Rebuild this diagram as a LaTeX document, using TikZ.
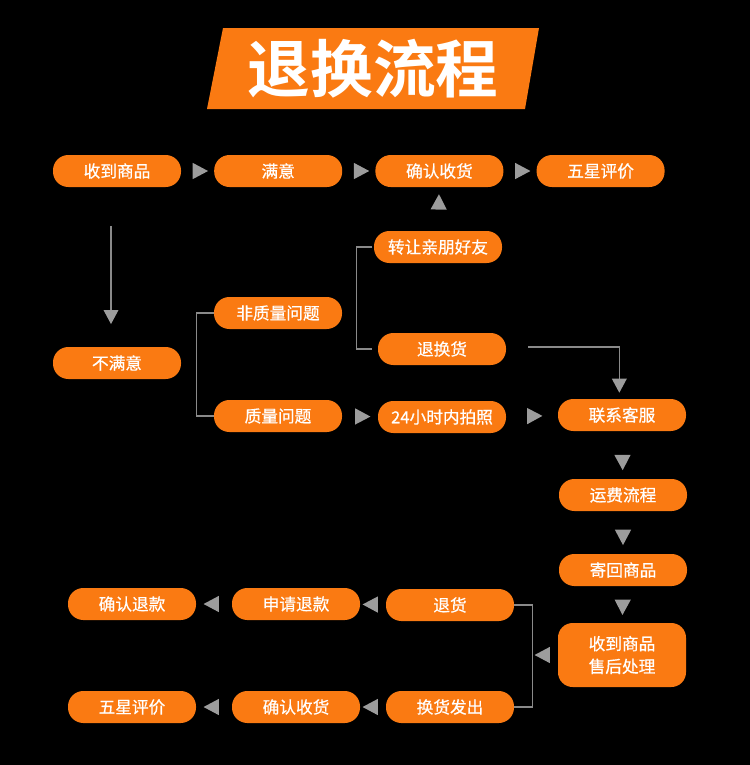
\documentclass[tikz,border=0pt]{standalone}
\usepackage{fontspec}
\newfontfamily\cjk{Noto Sans CJK SC}[BoldFont={Noto Sans CJK SC Bold}]
\newfontfamily\cjkmed{Noto Sans CJK SC}[FakeBold=0.6]
\definecolor{MyO}{HTML}{FA7A12}
\definecolor{MyT}{HTML}{9C9C9C}
\definecolor{MyL}{HTML}{8A8A8A}
\usetikzlibrary{arrows.meta,positioning,shapes.geometric,calc}
\tikzset{%
  stage/.style={rectangle, rounded corners=11.5pt, fill=MyO, text=white, minimum width=96pt, minimum height=24pt, inner sep=0pt, align=center, font=\cjkmed\fontsize{12.5}{17}\selectfont},
  stage big/.style={stage, rounded corners=11pt, minimum height=48pt},
  tip/.style={isosceles triangle, isosceles triangle apex angle=56, fill=MyT, inner sep=0pt, minimum size=11.5pt, sloped, allow upside down},
  link/.style={draw=MyL, line width=0.9pt, -{Triangle[length=10.5pt,width=11pt,color=MyT]}},
  bracket/.style={draw=MyL, line width=0.9pt}
}
\begin{document}
\begin{tikzpicture}[x=0.75pt, y=-0.75pt]

 \path[fill=black, use as bounding box] (0,0) rectangle (750,765);

 % title banner
 \fill[MyO] (223,28) -- (539,28) -- (525,109) -- (207,109) -- cycle;
 \node[text=white, font=\cjk\bfseries\fontsize{47}{52}\selectfont] (title) at (373,69) {退换流程};

 % first row
 \node[stage] (recv) at (117,171) {收到商品};
 \node[stage, right=24.5pt of recv] (satis) {满意};
 \node[stage, right=24.5pt of satis] (confirm) {确认收货};
 \node[stage, right=24.5pt of confirm] (five) {五星评价};

 \node[stage] (unsat) at (117,363) {不满意};
 \node[stage] (nonq) at (278,313) {非质量问题};
 \node[stage] (qual) at (278,416) {质量问题};
 \node[stage] (transfer) at (438,247) {转让亲朋好友};
 \node[stage] (swap) at (442,349) {退换货};
 \node[stage] (photo) at (442,417) {24小时内拍照};

 % right column
 \node[stage] (contact) at (622,415) {联系客服};
 \node[stage] (freight) at (623,495) {运费流程};
 \node[stage] (sendback) at (623,570) {寄回商品};
 \node[stage big] (handle) at (622,655) {收到商品\\售后处理};

 % bottom rows
 \node[stage] (tuihuo) at (450,605) {退货};
 \node[stage] (apply) at (296,604) {申请退款};
 \node[stage] (refund) at (132,604) {确认退款};
 \node[stage] (huanhuo) at (450,707) {换货发出};
 \node[stage] (confirm2) at (296,707) {确认收货};
 \node[stage] (five2) at (132,707) {五星评价};

 \path (recv) -- node[tip] {} (satis);
 \path (satis) -- node[tip] {} (confirm);
 \path (confirm) -- node[tip] {} (five);
 \path (transfer) -- node[tip, pos=0.6] {} (confirm);
 \path (qual) -- node[tip] {} (photo);
 \path (photo) -- node[tip] {} (contact);
 \path (contact) -- node[tip, pos=0.6] {} (freight);
 \path (freight) -- node[tip, pos=0.55] {} (sendback);
 \path (sendback) -- node[tip] {} (handle);
 \path (tuihuo) -- node[tip] {} (apply);
 \path (apply) -- node[tip] {} (refund);
 \path (huanhuo) -- node[tip] {} (confirm2);
 \path (confirm2) -- node[tip] {} (five2);

 \draw[link, shorten <=29pt, shorten >=17pt] ([xshift=-4.5pt]recv.south) -- ([xshift=-4.5pt]unsat.north);
 \draw[link, shorten >=4.5pt] ([xshift=16.5pt, yshift=1.5pt]swap.east) -| ([xshift=-2pt]contact.north);

 \draw[bracket] (nonq.west) -- ++(-17,0) |- (qual.west);
 \draw[bracket] ([xshift=-1pt]transfer.west) -- ++(-16,0) |- ([xshift=-4pt]swap.west);
 \draw[bracket] (tuihuo.east) -- ++(18,0) coordinate (bk) |- (huanhuo.east);

 \coordinate (bkm) at (bk |- handle);
 \path (handle) -- node[tip] {} (bkm);

\end{tikzpicture}
\end{document}
